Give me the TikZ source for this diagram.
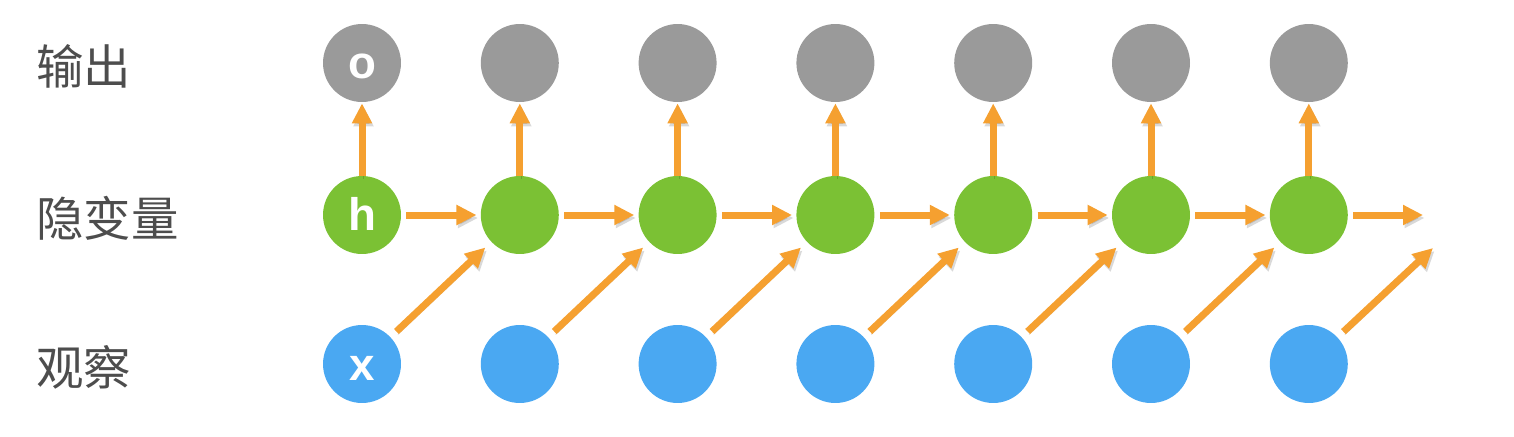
\documentclass[tikz,border=0pt]{standalone}
\usepackage{fontspec}
\newfontfamily\cjk{Noto Sans CJK SC}
\newfontfamily\lettersf{Liberation Sans}
\usepackage{xcolor}
\usepackage{tikz}
\usetikzlibrary{arrows.meta}
\definecolor{outgray}{HTML}{9A9A9A}
\definecolor{hidgreen}{HTML}{7BC134}
\definecolor{obsblue}{HTML}{4AA8F2}
\definecolor{floworange}{HTML}{F5A030}
\definecolor{labelgray}{HTML}{4D4D4D}
\tikzset{
  unit/.style={circle, minimum size=1.56cm, inner sep=0pt, text=white,
    text height=0.64cm, text depth=0pt,
    font=\lettersf\bfseries\fontsize{26}{26}\selectfont},
  outunit/.style={unit, fill=outgray},
  hidunit/.style={unit, fill=hidgreen},
  obsunit/.style={unit, fill=obsblue},
  flow/.style={draw=floworange, line width=0.14cm,
    -{Triangle[length=0.4cm, width=0.38cm]},
    preaction={draw=black, opacity=0.15,
      transform canvas={shift={(0.03cm,-0.06cm)}}}},
  rowlabel/.style={anchor=west, inner sep=0pt, text=labelgray,
    font=\cjk\fontsize{27}{27}\selectfont}
}

\begin{document}
\begin{tikzpicture}[x=0.02cm, y=-0.02cm]
        \useasboundingbox (0,0) rectangle (1514,436);

        % Row labels
        \node[rowlabel] (lo) at (36, 66) {输出};
        \node[rowlabel] (lh) at (36, 218) {隐变量};
        \node[rowlabel] (lx) at (36, 367) {观察};

        % Define the positions of the nodes
        \node[outunit] (o1) at (362, 63) {o};
        \node[hidunit] (h1) at (362, 215) {h};
        \node[obsunit] (x1) at (362, 364) {x};
        \foreach \i in {2,...,7} {
          \node[outunit] (o\i) at ({362+(\i-1)*157.8}, 63) {};
          \node[hidunit] (h\i) at ({362+(\i-1)*157.8}, 215) {};
          \node[obsunit] (x\i) at ({362+(\i-1)*157.8}, 364) {};
        }
        \coordinate (hout) at (1423, 215);
        \coordinate (xout) at (1433, 248);

        % Draw the edges
        \foreach \i in {1,...,7}
          \draw[flow, shorten >=0.02cm] (h\i) -- (o\i);
        \foreach \from/\to in {1/2, 2/3, 3/4, 4/5, 5/6, 6/7} {
          \draw[flow, shorten <=0.1cm, shorten >=0.08cm] (h\from) -- (h\to);
          \draw[flow, shorten <=0.16cm, shorten >=0.16cm] (x\from) -- (h\to);
        }
        \draw[flow, shorten <=0.1cm] (h7) -- (hout);
        \draw[flow, shorten <=0.16cm] (x7) -- (xout);
    \end{tikzpicture}
\end{document}
